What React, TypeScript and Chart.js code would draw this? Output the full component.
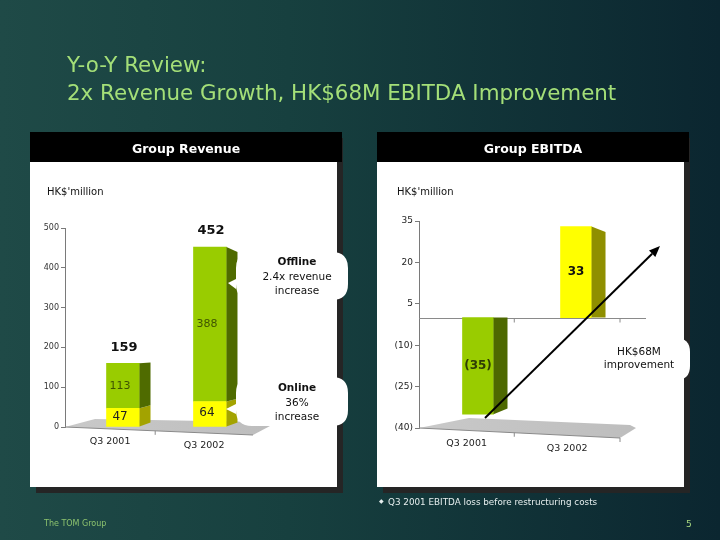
import React, { useEffect, useRef } from "react";
import { Chart, registerables } from "chart.js";

Chart.register(...registerables);

// ---------------- data ----------------
const revenueCategories = ["Q3 2001", "Q3 2002"];
const revenueOnline = [47, 64];
const revenueOffline = [113, 388];
const revenueTotals = [159, 452];
const revenueTicks = [0, 100, 200, 300, 400, 500];

const ebitdaCategories = ["Q3 2001", "Q3 2002"];
const ebitdaValues = [-35, 33];
const ebitdaTicks = [-40, -25, -10, 5, 20, 35];

const FONT = "'DejaVu Sans', Verdana, sans-serif";

// ---------------- plugins ----------------
function sidePlugin(dx: number, vyValue: number, k: number) {
  return {
    id: "side3d",
    afterDatasetsDraw(chart: any) {
      const ctx = chart.ctx;
      const vy = chart.scales.y.getPixelForValue(vyValue);
      const proj = (y: number) => vy + (y - vy) * k;
      chart.data.datasets.forEach((ds: any, di: number) => {
        const meta = chart.getDatasetMeta(di);
        meta.data.forEach((bar: any, i: number) => {
          const p = bar.getProps(["x", "y", "base", "width"], true);
          const r = p.x + p.width / 2;
          const top = Math.min(p.y, p.base);
          const bot = Math.max(p.y, p.base);
          const col = Array.isArray(ds.sideColor) ? ds.sideColor[i] : ds.sideColor;
          ctx.save();
          ctx.fillStyle = col;
          ctx.beginPath();
          ctx.moveTo(r, top);
          ctx.lineTo(r + dx, proj(top));
          ctx.lineTo(r + dx, proj(bot));
          ctx.lineTo(r, bot);
          ctx.closePath();
          ctx.fill();
          ctx.restore();
        });
      });
    },
  };
}

type FloorGeo = { bx: number; by: number; cx: number; cy: number; dx: number; dy: number; ex: number; ey: number };

function floorPlugin(yValue: number, g: FloorGeo, tickValue: number, endTick: boolean, cats: string[]) {
  return {
    id: "floor3d",
    beforeDatasetsDraw(chart: any) {
      const { ctx, chartArea } = chart;
      const L = chartArea.left;
      const R = chartArea.right;
      const y0 = chart.scales.y.getPixelForValue(yValue);
      const A = [L, y0];
      const B = [L + g.bx, y0 + g.by];
      const C = [R + g.cx, y0 + g.cy];
      const D = [R + g.dx, y0 + g.dy];
      const E = [R + g.ex, y0 + g.ey];
      ctx.save();
      const grad = ctx.createLinearGradient(L, 0, R, 0);
      grad.addColorStop(0, "#c9c9c9");
      grad.addColorStop(1, "#bdbdbd");
      ctx.fillStyle = grad;
      ctx.beginPath();
      ctx.moveTo(A[0], A[1]);
      ctx.lineTo(B[0], B[1]);
      ctx.lineTo(C[0], C[1]);
      ctx.lineTo(D[0], D[1]);
      ctx.lineTo(E[0], E[1]);
      ctx.closePath();
      ctx.fill();
      // tilted category axis
      ctx.strokeStyle = "#8a8a8a";
      ctx.lineWidth = 1;
      ctx.beginPath();
      ctx.moveTo(A[0], A[1]);
      ctx.lineTo(E[0], E[1]);
      ctx.stroke();
      const lineY = (x: number) => A[1] + ((x - A[0]) / (E[0] - A[0])) * (E[1] - A[1]);
      const t1 = chart.scales.x.getPixelForValue(tickValue);
      const ticks = endTick ? [t1, E[0]] : [t1];
      ticks.forEach((tx) => {
        ctx.beginPath();
        ctx.moveTo(tx, lineY(tx));
        ctx.lineTo(tx, lineY(tx) + 4);
        ctx.stroke();
      });
      // category labels, centred between axis ticks
      const bounds = [A[0], t1, E[0]];
      ctx.fillStyle = "#222";
      ctx.font = `9.5px ${FONT}`;
      ctx.textAlign = "center";
      ctx.textBaseline = "middle";
      cats.forEach((c, i) => {
        const cx = (bounds[i] + bounds[i + 1]) / 2;
        ctx.fillText(c, cx, lineY(cx) + 13);
      });
      ctx.restore();
    },
  };
}

const zeroLinePlugin = {
  id: "zeroLine",
  beforeDatasetsDraw(chart: any) {
    const { ctx, chartArea } = chart;
    const y = Math.round(chart.scales.y.getPixelForValue(0)) + 0.5;
    ctx.save();
    ctx.strokeStyle = "#8a8a8a";
    ctx.lineWidth = 1;
    ctx.beginPath();
    ctx.moveTo(chartArea.left, y);
    ctx.lineTo(chartArea.right, y);
    ctx.stroke();
    [chart.scales.x.getPixelForValue(1.37), chartArea.right - 26].forEach((x: number) => {
      ctx.beginPath();
      ctx.moveTo(x, y);
      ctx.lineTo(x, y + 4);
      ctx.stroke();
    });
    ctx.restore();
  },
};

const revenueLabelsPlugin = {
  id: "revLabels",
  afterDatasetsDraw(chart: any) {
    const ctx = chart.ctx;
    ctx.save();
    ctx.textAlign = "center";
    ctx.textBaseline = "middle";
    // online (yellow)
    chart.getDatasetMeta(0).data.forEach((bar: any, i: number) => {
      const p = bar.getProps(["x", "y", "base"], true);
      ctx.font = `12px ${FONT}`;
      ctx.fillStyle = "#222";
      ctx.fillText(String(revenueOnline[i]), p.x - 3, (p.y + p.base) / 2 - 1);
    });
    // offline (green)
    chart.getDatasetMeta(1).data.forEach((bar: any, i: number) => {
      const p = bar.getProps(["x", "y", "base"], true);
      ctx.font = `11px ${FONT}`;
      ctx.fillStyle = "#3f5400";
      ctx.fillText(String(revenueOffline[i]), p.x - 3, (p.y + p.base) / 2);
      ctx.font = `bold 13px ${FONT}`;
      ctx.fillStyle = "#111";
      ctx.fillText(String(revenueTotals[i]), p.x + 1, p.y - 16);
    });
    ctx.restore();
  },
};

const ebitdaLabelsPlugin = {
  id: "ebLabels",
  afterDatasetsDraw(chart: any) {
    const ctx = chart.ctx;
    ctx.save();
    ctx.textAlign = "center";
    ctx.textBaseline = "middle";
    chart.getDatasetMeta(0).data.forEach((bar: any, i: number) => {
      const p = bar.getProps(["x", "y", "base"], true);
      const v = ebitdaValues[i];
      ctx.font = `bold 12px ${FONT}`;
      ctx.fillStyle = v < 0 ? "#2e3d05" : "#111";
      ctx.fillText(v < 0 ? `(${-v})` : `${v}`, p.x, (p.y + p.base) / 2);
    });
    ctx.restore();
  },
};

// ---------------- configs ----------------
const revenueConfig = (): any => ({
  type: "bar",
  data: {
    datasets: [
      {
        label: "Online",
        data: revenueOnline.map((v, i) => ({ x: i + 1, y: v })),
        backgroundColor: "#ffff00",
        sideColor: "#a3a300",
        barThickness: 33,
      },
      {
        label: "Offline",
        data: revenueOffline.map((v, i) => ({ x: i + 1, y: v })),
        backgroundColor: "#99cc00",
        sideColor: "#4f6b00",
        barThickness: 33,
      },
    ],
  },
  options: {
    responsive: false,
    animation: false,
    events: [],
    layout: { padding: { left: 0, top: 66, right: 67, bottom: 60 } },
    plugins: { legend: { display: false }, tooltip: { enabled: false } },
    scales: {
      x: { type: "linear", stacked: true, display: false, offset: false, min: 0.333, max: 2.69 },
      y: {
        stacked: true,
        min: 0,
        max: 500,
        afterFit(s: any) {
          s.width = 35;
        },
        afterBuildTicks(s: any) {
          s.ticks = revenueTicks.map((v) => ({ value: v }));
        },
        ticks: { font: { family: FONT, size: 8 }, color: "#333", padding: 2 },
        grid: { drawOnChartArea: false, drawTicks: true, tickLength: 4, color: "#7a7a7a" },
        border: { display: true, color: "#7a7a7a" },
      },
    },
  },
  plugins: [
    floorPlugin(0, { bx: 30, by: -8, cx: -7, cy: -5, dx: 0, dy: -1, ex: -17, ey: 8 }, 1.37, false, revenueCategories),
    sidePlugin(11, 200, 0.95),
    revenueLabelsPlugin,
  ],
});

const ebitdaConfig = (): any => ({
  type: "bar",
  data: {
    datasets: [
      {
        label: "EBITDA",
        data: ebitdaValues.map((v, i) => ({ x: i + 1, y: v })),
        backgroundColor: ["#99cc00", "#ffff00"],
        sideColor: ["#4d6800", "#8f8f00"],
        barThickness: 31,
      },
    ],
  },
  options: {
    responsive: false,
    animation: false,
    events: [],
    layout: { padding: { left: 0, top: 59, right: 38, bottom: 59 } },
    plugins: { legend: { display: false }, tooltip: { enabled: false } },
    scales: {
      x: { type: "linear", display: false, offset: false, min: 0.398, max: 2.714 },
      y: {
        min: -40,
        max: 35,
        afterFit(s: any) {
          s.width = 42;
        },
        afterBuildTicks(s: any) {
          s.ticks = ebitdaTicks.map((v) => ({ value: v }));
        },
        ticks: {
          font: { family: FONT, size: 9 },
          color: "#222",
          padding: 2,
          callback: (v: any) => (v < 0 ? `(${-v})` : `${v}`),
        },
        grid: { drawOnChartArea: false, drawTicks: true, tickLength: 4, color: "#7a7a7a" },
        border: { display: true, color: "#7a7a7a" },
      },
    },
  },
  plugins: [
    floorPlugin(-40, { bx: 50, by: -10, cx: -16, cy: -3, dx: -10, dy: 0, ex: -26, ey: 10 }, 1.37, true, ebitdaCategories),
    zeroLinePlugin,
    sidePlugin(14, 0, 0.94),
    ebitdaLabelsPlugin,
  ],
});

// ---------------- components ----------------
function ChartCanvas(props: { left: number; top: number; width: number; height: number; build: () => any }) {
  const ref = useRef<HTMLCanvasElement>(null);
  useEffect(() => {
    const chart = new Chart(ref.current as HTMLCanvasElement, props.build());
    return () => chart.destroy();
  }, []);
  return (
    <canvas
      ref={ref}
      width={props.width}
      height={props.height}
      style={{ position: "absolute", left: props.left, top: props.top, width: props.width, height: props.height }}
    />
  );
}

function bubblePath(x1: number, y1: number, x2: number, y2: number, r: number, tip?: [number, number, number, number]) {
  let d = `M ${x1 + r} ${y1} H ${x2 - r} Q ${x2} ${y1} ${x2} ${y1 + r} V ${y2 - r} Q ${x2} ${y2} ${x2 - r} ${y2} H ${x1 + r} Q ${x1} ${y2} ${x1} ${y2 - r}`;
  if (tip) {
    const [tx, ty, p1, p2] = tip;
    d += ` V ${p2} L ${tx} ${ty} L ${x1} ${p1}`;
  }
  d += ` V ${y1 + r} Q ${x1} ${y1} ${x1 + r} ${y1} Z`;
  return d;
}

function Panel(props: { left: number; width: number }) {
  const { left, width } = props;
  return (
    <>
      <div style={{ position: "absolute", left: left + 6, top: 138, width, height: 355, background: "#252525" }} />
      <div style={{ position: "absolute", left, top: 162, width, height: 325, background: "#ffffff" }} />
      <div style={{ position: "absolute", left, top: 132, width: width + 5, height: 30, background: "#000000" }} />
    </>
  );
}

export default function App() {
  useEffect(() => {
    document.body.style.margin = "0";
  }, []);
  const arrowTip: [number, number] = [660, 246];
  const arrowStart: [number, number] = [485, 418];
  const ddx = arrowTip[0] - arrowStart[0];
  const ddy = arrowTip[1] - arrowStart[1];
  const len = Math.hypot(ddx, ddy);
  const ux = ddx / len;
  const uy = ddy / len;
  const bx = arrowTip[0] - ux * 11;
  const by = arrowTip[1] - uy * 11;
  const head = `${arrowTip[0]},${arrowTip[1]} ${bx - uy * 4.5},${by + ux * 4.5} ${bx + uy * 4.5},${by - ux * 4.5}`;

  return (
    <div
      style={{
        position: "absolute",
        left: 0,
        top: 0,
        width: 720,
        height: 540,
        overflow: "hidden",
        background: "linear-gradient(to right, #1f4a47 0%, #17403f 40%, #0b2630 100%)",
        fontFamily: FONT,
      }}
    >
      <Panel left={30} width={307} />
      <Panel left={377} width={307} />
      <ChartCanvas left={30} top={162} width={307} height={325} build={revenueConfig} />
      <ChartCanvas left={377} top={162} width={307} height={325} build={ebitdaConfig} />
      <svg
        width={720}
        height={540}
        style={{ position: "absolute", left: 0, top: 0, pointerEvents: "none" }}
        fontFamily={FONT}
      >
        {/* title */}
        <text x={67} y={72} fontSize={21.4} fill="#a4df78">Y-o-Y Review:</text>
        <text x={67} y={100} fontSize={21.4} fill="#a4df78">2x Revenue Growth, HK$68M EBITDA Improvement</text>

        {/* panel headers */}
        <text x={186} y={152.5} fontSize={12.5} fontWeight="bold" fill="#ffffff" textAnchor="middle">Group Revenue</text>
        <text x={533} y={152.5} fontSize={12.5} fontWeight="bold" fill="#ffffff" textAnchor="middle">Group EBITDA</text>

        {/* units */}
        <text x={47} y={195} fontSize={10} fill="#111">HK$'million</text>
        <text x={397} y={195} fontSize={10} fill="#111">HK$'million</text>

        {/* callouts */}
        <path d={bubblePath(236, 252, 348, 300, 16, [228, 283, 279, 289])} fill="#ffffff" />
        <text x={297} y={265} fontSize={10.5} fontWeight="bold" fill="#111" textAnchor="middle">Offline</text>
        <text x={297} y={280} fontSize={10.5} fill="#111" textAnchor="middle">2.4x revenue</text>
        <text x={297} y={294} fontSize={10.5} fill="#111" textAnchor="middle">increase</text>

        <path d={bubblePath(236, 377, 348, 426, 16, [226, 409, 404, 414])} fill="#ffffff" />
        <text x={297} y={391} fontSize={10.5} fontWeight="bold" fill="#111" textAnchor="middle">Online</text>
        <text x={297} y={406} fontSize={10.5} fill="#111" textAnchor="middle">36%</text>
        <text x={297} y={420} fontSize={10.5} fill="#111" textAnchor="middle">increase</text>

        <path d={bubblePath(598, 338, 690, 380, 14)} fill="#ffffff" />
        <text x={639} y={355} fontSize={10.5} fill="#111" textAnchor="middle">HK$68M</text>
        <text x={639} y={368} fontSize={10.5} fill="#111" textAnchor="middle">improvement</text>

        {/* improvement arrow */}
        <line x1={arrowStart[0]} y1={arrowStart[1]} x2={bx} y2={by} stroke="#000" strokeWidth={2} />
        <polygon points={head} fill="#000" />

        {/* footnote and footer */}
        <text x={379} y={503} fontSize={6} fill="#e6eeee">◆</text>
        <text x={388} y={505} fontSize={8.8} fill="#e6eeee">Q3 2001 EBITDA loss before restructuring costs</text>
        <text x={44} y={526} fontSize={8} fill="#8cc26e">The TOM Group</text>
        <text x={686} y={527} fontSize={9} fill="#a8d880">5</text>
      </svg>
    </div>
  );
}
